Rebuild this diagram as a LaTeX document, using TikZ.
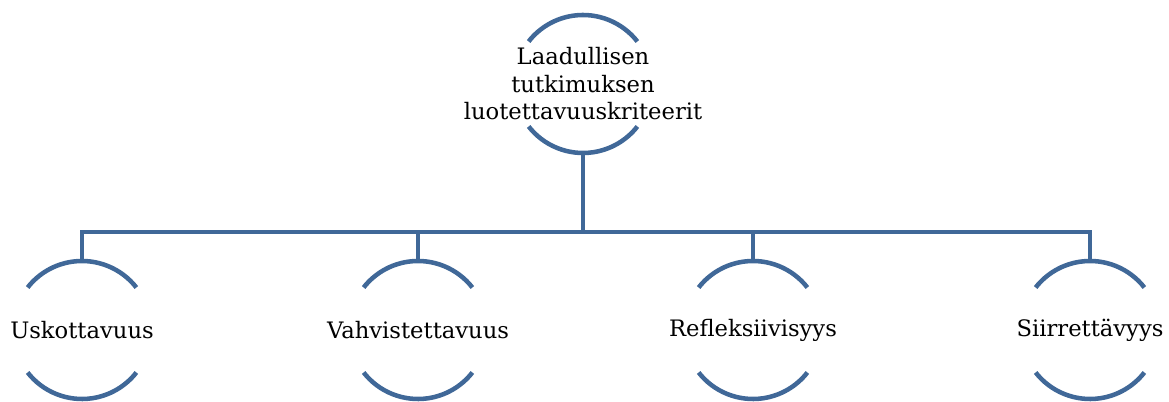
\documentclass[tikz,border=0pt]{standalone}
\usepackage{fontspec}
\setmainfont{DejaVu Serif}
\definecolor{arcblue}{RGB}{64,104,152}
\def\rr{51.75pt}
\begin{document}
\begin{tikzpicture}[x=0.75pt,y=0.75pt,
  lbl/.style={font=\fontsize{17}{20.6}\selectfont,align=center,inner sep=0pt},
  link/.style={arcblue,line width=3.4pt,line join=miter}]
  \useasboundingbox (0,0) rectangle (1169,402);
  \node[lbl] (top) at (583,318) {Laadullisen\\tutkimuksen\\luotettavuuskriteerit};
  \foreach \x/\nm/\txt in {82/usk/Uskottavuus, 418/vah/Vahvistettavuus,
      753/ref/Refleksiivisyys, 1090/sii/Siirrettävyys}
    \node[lbl] (\nm) at (\x,72) {\txt};
  % half rings round each label
  \foreach \nm in {top,usk,vah,ref,sii} {
    \draw[link] ([shift={(38:\rr)}]\nm.center) arc (38:142:\rr);
    \draw[link] ([shift={(218:\rr)}]\nm.center) arc (218:322:\rr);
    \coordinate (\nm-n) at ([yshift=\rr]\nm.center);
    \coordinate (\nm-s) at ([yshift=-\rr]\nm.center);
  }
  % connectors
  \coordinate (bus) at (583,170);
  \draw[link] (top-s) -- (bus);
  \foreach \nm in {usk,vah,ref,sii}
    \draw[link] (bus) -| (\nm-n);
\end{tikzpicture}
\end{document}
